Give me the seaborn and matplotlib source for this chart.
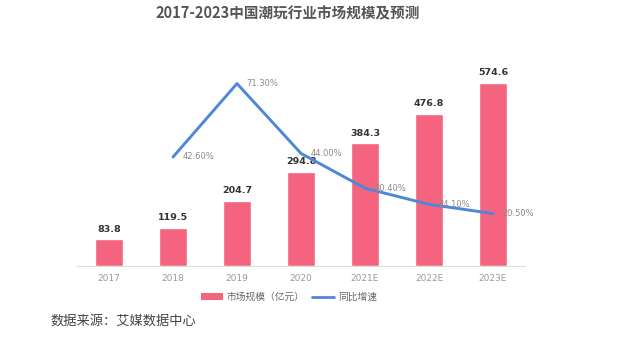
import numpy as np
import pandas as pd
import matplotlib
matplotlib.use("Agg")
import matplotlib.pyplot as plt
import seaborn as sns
from matplotlib.patches import Patch
from matplotlib.lines import Line2D

sns.set_theme(style="white")
plt.rcParams['font.family'] = ['Noto Sans CJK SC', 'DejaVu Sans']

# ---- data ----
years = ["2017", "2018", "2019", "2020", "2021E", "2022E", "2023E"]
market_size = [83.8, 119.5, 204.7, 294.8, 384.3, 476.8, 574.6]
growth_years = ["2018", "2019", "2020", "2021E", "2022E", "2023E"]
growth_rate = [42.60, 71.30, 44.00, 30.40, 24.10, 20.50]

title = "2017-2023中国潮玩行业市场规模及预测"
bar_name = "市场规模（亿元）"
line_name = "同比增速"
source = "数据来源：艾媒数据中心"

bar_color = "#F4647F"
line_color = "#4F86D9"

df_bar = pd.DataFrame({"year": years, "size": market_size})
pos = {y: i for i, y in enumerate(years)}
df_line = pd.DataFrame({"x": [pos[y] for y in growth_years], "rate": growth_rate})

fig = plt.figure(figsize=(6.4, 3.46), dpi=100)
ax = fig.add_axes([77 / 640, 80 / 346, 448 / 640, 196 / 346])

sns.barplot(data=df_bar, x="year", y="size", order=years, color=bar_color,
            width=0.44, saturation=1, ax=ax, zorder=2)
ax.set_ylim(0, 614)
ax.set_xlim(-0.5, len(years) - 0.5)

for i, v in enumerate(market_size):
    ax.annotate(f"{v:.1f}", (i, v), xytext=(0, 4), textcoords="offset points",
                ha="center", va="bottom", fontsize=6.8, fontweight="bold",
                color="#333333", family=['DejaVu Sans'])

ax2 = ax.twinx()
sns.lineplot(data=df_line, x="x", y="rate", color=line_color, linewidth=2.1,
             ax=ax2, zorder=3, solid_joinstyle="round", solid_capstyle="round")
ax2.set_ylim(0, 76.6)
ax2.set_xlim(-0.5, len(years) - 0.5)
for x, r in zip(df_line["x"], df_line["rate"]):
    ax2.annotate(f"{r:.2f}%", (x, r), xytext=(7, 0), textcoords="offset points",
                 ha="left", va="center", fontsize=6, color="#8a8a8a",
                 family=['DejaVu Sans'])

for a in (ax, ax2):
    a.set_xlabel("")
    a.set_ylabel("")
    a.set_yticks([])
    for s in ("top", "right", "left"):
        a.spines[s].set_visible(False)
ax2.spines["bottom"].set_visible(False)
ax.spines["bottom"].set_color("#dddddd")
ax.spines["bottom"].set_linewidth(0.8)

ax.set_xticks(range(len(years)))
ax.set_xticklabels(years, fontsize=6.5, color="#999999", family=['DejaVu Sans'])
ax.tick_params(axis="x", which="major", length=0, pad=6)
ax.set_xticks(np.arange(-0.5, len(years)), minor=True)
ax.tick_params(axis="x", which="minor", length=3, color="#dddddd", width=0.8)
ax2.tick_params(axis="x", length=0)

fig.text(288 / 640, 1 - 13 / 346, title, ha="center", va="center",
         fontsize=10.5, fontweight="bold", color="#555555")

handles = [Patch(facecolor=bar_color, edgecolor="none"),
           Line2D([0], [0], color=line_color, linewidth=2)]
fig.legend(handles, [bar_name, line_name], loc="center",
           bbox_to_anchor=(289 / 640, 1 - 297 / 346), ncol=2, frameon=False,
           fontsize=7, labelcolor="#666666", handlelength=2.2, handleheight=0.6,
           columnspacing=0.8, handletextpad=0.4)

fig.text(50 / 640, 1 - 321 / 346, source, ha="left", va="center",
         fontsize=9.5, color="#444444")

fig.savefig("out.png", dpi=100, facecolor="white")
